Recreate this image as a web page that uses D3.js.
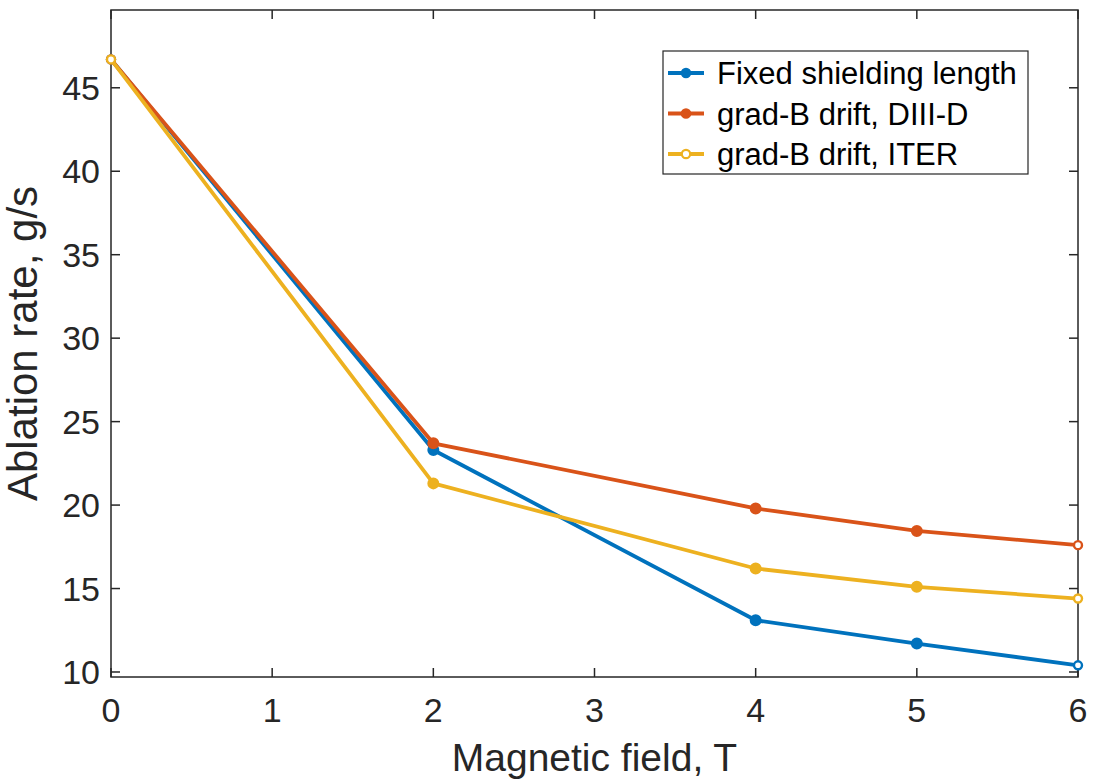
<!DOCTYPE html>
<html lang="en">
<meta charset="UTF-8">
<style>
    body { margin: 0; background: white; }
    text { font-family: "Liberation Sans", Arial, Helvetica, sans-serif; fill: #262626; }
    .frame { fill: none; stroke: #262626; stroke-width: 1.5px; }
    .tick-line { stroke: #262626; stroke-width: 1.5px; }
</style>
<body>
<svg id="chart" width="1093" height="779"></svg>
<script src="https://d3js.org/d3.v7.min.js"></script>
<script>
// magnetic field values (T)
const fields = [0, 2, 4, 5, 6];
// ablation rate, g/s
const fixedShield = [46.7, 23.3, 13.1, 11.7, 10.4];
const gradBDiiiD = [46.7, 23.7, 19.8, 18.45, 17.6];
const gradBIter = [46.7, 21.3, 16.2, 15.1, 14.4];
const seriesNames = ["Fixed shielding length", "grad-B drift, DIII-D", "grad-B drift, ITER"];
const seriesColors = ["#0072BD", "#D95319", "#EDB120"];
const xTicks = [0, 1, 2, 3, 4, 5, 6];
const yTicks = [10, 15, 20, 25, 30, 35, 40, 45];

const svg = d3.select('#chart');
const margin = {top: 10, right: 15, bottom: 102, left: 111};
const width = 1093, height = 779;
const innerW = width - margin.left - margin.right;
const innerH = height - margin.top - margin.bottom;

const x = d3.scaleLinear().domain([0, 6]).range([0, innerW]);
const y = d3.scaleLinear().domain([9.7, 49.66]).range([innerH, 0]);

const g = svg.append('g')
    .attr('transform', `translate(${margin.left},${margin.top})`);

// ticks pointing inwards on all four sides (matlab box)
const tl = 9;
g.selectAll('.xt-bot').data(xTicks).enter().append('line')
    .attr('class', 'tick-line')
    .attr('x1', d => x(d)).attr('x2', d => x(d))
    .attr('y1', innerH).attr('y2', innerH - tl);
g.selectAll('.xt-top').data(xTicks).enter().append('line')
    .attr('class', 'tick-line')
    .attr('x1', d => x(d)).attr('x2', d => x(d))
    .attr('y1', 0).attr('y2', tl);
g.selectAll('.yt-l').data(yTicks).enter().append('line')
    .attr('class', 'tick-line')
    .attr('x1', 0).attr('x2', tl)
    .attr('y1', d => y(d)).attr('y2', d => y(d));
g.selectAll('.yt-r').data(yTicks).enter().append('line')
    .attr('class', 'tick-line')
    .attr('x1', innerW).attr('x2', innerW - tl)
    .attr('y1', d => y(d)).attr('y2', d => y(d));

g.selectAll('.xl').data(xTicks).enter().append('text')
    .attr('x', d => x(d))
    .attr('y', innerH + 45)
    .attr('text-anchor', 'middle')
    .attr('font-size', '34px')
    .text(d => d);
g.selectAll('.yl').data(yTicks).enter().append('text')
    .attr('x', -11)
    .attr('y', d => y(d) + 12)
    .attr('text-anchor', 'end')
    .attr('font-size', '34px')
    .text(d => d);

g.append('rect').attr('class', 'frame')
    .attr('x', 0).attr('y', 0).attr('width', innerW).attr('height', innerH);

const allSeries = [fixedShield, gradBDiiiD, gradBIter];
const line = d3.line().x((d, i) => x(fields[i])).y(d => y(d));

allSeries.forEach((vals, si) => {
    const col = seriesColors[si];
    g.append('path')
        .datum(vals)
        .attr('fill', 'none')
        .attr('stroke', col)
        .attr('stroke-width', 3.8)
        .attr('stroke-linejoin', 'round')
        .attr('d', line);
    g.selectAll('.pt' + si).data(vals).enter().append('circle')
        .attr('cx', (d, i) => x(fields[i]))
        .attr('cy', d => y(d))
        .attr('r', (d, i) => (i === 0 || i === vals.length - 1) ? 4 : 4.8)
        .attr('fill', (d, i) => (i === 0 || i === vals.length - 1) ? 'white' : col)
        .attr('stroke', col)
        .attr('stroke-width', 2.4);
});

// legend
const lg = svg.append('g').attr('transform', 'translate(663,51)');
lg.append('rect')
    .attr('width', 365).attr('height', 123)
    .attr('fill', 'white').attr('stroke', '#262626').attr('stroke-width', 1.2);
seriesNames.forEach((name, i) => {
    const cy = 22 + i * 40.5;
    lg.append('line')
        .attr('x1', 5).attr('x2', 41).attr('y1', cy).attr('y2', cy)
        .attr('stroke', seriesColors[i]).attr('stroke-width', 3.8);
    lg.append('circle')
        .attr('cx', 23).attr('cy', cy).attr('r', 4.2)
        .attr('fill', i === 2 ? 'white' : seriesColors[i])
        .attr('stroke', seriesColors[i]).attr('stroke-width', 2.2);
    lg.append('text')
        .attr('x', 54).attr('y', cy + 11)
        .attr('font-size', '31px')
        .style('fill', '#000')
        .text(name);
});

// axis titles
svg.append('text')
    .attr('x', margin.left + innerW / 2)
    .attr('y', 771)
    .attr('text-anchor', 'middle')
    .attr('font-size', '39px')
    .text('Magnetic field, T');
svg.append('text')
    .attr('transform', `translate(37,${margin.top + innerH / 2}) rotate(-90)`)
    .attr('text-anchor', 'middle')
    .attr('font-size', '42px')
    .text('Ablation rate, g/s');
</script>
</body>
</html>
